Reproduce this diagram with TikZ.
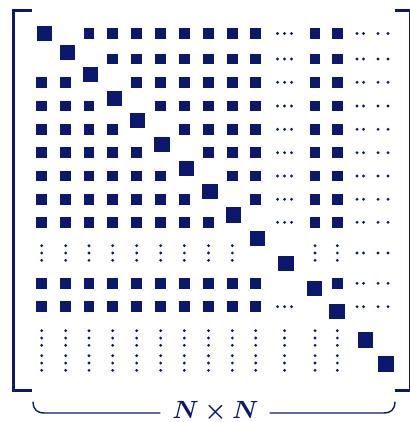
\documentclass[tikz,border=0pt]{standalone}
\usepackage{amsmath}
\usepackage{bm}
\usepackage{tikz}
\usetikzlibrary{calc}
\definecolor{MatBlue}{RGB}{10,24,110}

% column centres of the matrix grid
\def\colx{{0,41.7,65.7,89,112.7,136.7,160.7,184.3,208.5,232.3,255.7,284.5,315,337.3,360,382.5}}

\newcommand{\msq}[2]{\fill[MatBlue] ({#1-5.4},{#2-5.4}) rectangle ++(10.8,10.8);}
\newcommand{\mbig}[2]{\fill[MatBlue] ({#1-7.75},{#2-7.75}) rectangle ++(15.5,15.5);}
\newcommand{\mhd}[2]{\foreach \d in {-7,0,7}{\fill[MatBlue] ({#1+\d},#2) circle (1.55);}}
\newcommand{\mvd}[2]{\foreach \d in {-7.3,0,7.3}{\fill[MatBlue] (#1,{#2+\d}) circle (1.55);}}
\newcommand{\mpair}[1]{\foreach \d in {357,363.5,378,388}{\fill[MatBlue] (\d,#1) circle (1.55);}}

\begin{document}
\begin{tikzpicture}[x=1pt, y=-1pt,
	bracket/.style={MatBlue, line width=3pt},
	brace/.style={MatBlue, line width=1.4pt, line cap=round}]
	\useasboundingbox (0,0) rectangle (409,422);

	% upper block, rows 1--9
	\foreach \r/\y in {1/33.5,2/59,3/82.3,4/106,5/129.3,6/152.7,7/176,8/199.3,9/222.3}{
		\foreach \c in {1,...,10}{
			\pgfmathtruncatemacro\gap{(\c==\r)||(\c==\r+1)||(\r==2&&\c==1)}
			\pgfmathparse{\colx[\c]}\let\x\pgfmathresult
			\ifnum\gap=0 \msq{\x}{\y}\fi
		}
		\mhd{284.5}{\y}
		\msq{315}{\y}
		\msq{337.3}{\y}
		\mpair{\y}
	}

	% row 10 (dots)
	\foreach \c in {1,...,9,12,13}{
		\pgfmathparse{\colx[\c]}\let\x\pgfmathresult
		\mvd{\x}{253}
	}
	\mpair{253}

	% rows 11 and 12
	\foreach \c in {1,...,10}{
		\pgfmathparse{\colx[\c]}\let\x\pgfmathresult
		\msq{\x}{283.3}
		\msq{\x}{306.7}
	}
	\msq{337.3}{283.3}
	\mhd{284.5}{306.7}
	\mpair{283.3}
	\mpair{306.7}

	% rows 13 and 14 (dots)
	\foreach \c in {1,...,13}{
		\pgfmathparse{\colx[\c]}\let\x\pgfmathresult
		\mvd{\x}{338}
		\mvd{\x}{363}
	}

	% diagonal
	\foreach \x/\y in {44.3/33.3,67.3/52.7,90.3/74.7,114.7/98.3,137.7/120.7,162/144.7,186.3/168.3,
		210/191.7,233.3/215,257.7/238.3,286/263.3,314.7/288.3,337/311.7,365.3/340,386/364}{
		\mbig{\x}{\y}
	}

	% brackets
	\draw[bracket] (31.5,10.5) -- (13,10.5) -- (13,390) -- (31.5,390);
	\draw[bracket] (395,10.5) -- (410.5,10.5) -- (410.5,390) -- (395,390);

	% size label
	\node[anchor=base, text=MatBlue, inner sep=0pt, font=\fontsize{24}{28}\selectfont] (lbl) at (215.5,418.5) {$\bm{N\times N}$};
	\coordinate (bl) at (160,413);
	\coordinate (br) at (270,413);
	\draw[brace] (33,402) .. controls (33.5,410) and (37,413) .. (45,413) -- (bl);
	\draw[brace] (395,402) .. controls (394.5,410) and (391,413) .. (383,413) -- (br);
\end{tikzpicture}
\end{document}
